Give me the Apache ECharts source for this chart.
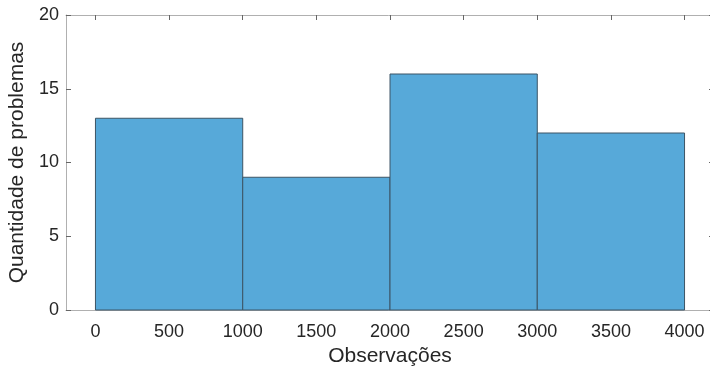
<!DOCTYPE html>
<html>
<head>
<meta charset="utf-8">
<script src="https://cdn.jsdelivr.net/npm/echarts@6/dist/echarts.min.js"></script>
<style>html,body{margin:0;padding:0;background:#fff}#c{width:710px;height:370px}</style>
</head>
<body>
<div id="c"></div>
<script>
// Histogram bins: edges and counts
const binEdges = [0, 1000, 2000, 3000, 4000];
const binCounts = [13, 9, 16, 12];
const xTicks = [0, 500, 1000, 1500, 2000, 2500, 3000, 3500, 4000];
const yTicks = [0, 5, 10, 15, 20];

const font = 'Liberation Sans, Arial, sans-serif';
const axisGray = '#b0b0b0';
const textColor = '#262626';

const bins = binCounts.map((c, i) => [binEdges[i], binEdges[i + 1], c]);

const chart = echarts.init(document.getElementById('c'), null, {renderer: 'canvas'});

function xAxisCfg(pos, show) {
  return {
    type: 'value', position: pos, min: -200, max: 4200,
    axisLine: {show: true, onZero: false, lineStyle: {color: axisGray, width: 1}},
    axisTick: {show: true, inside: true, length: 5, customValues: xTicks, lineStyle: {color: '#666'}},
    axisLabel: {show: show, customValues: xTicks, margin: 13, fontSize: 18, color: textColor, fontFamily: font,
      formatter: v => String(v)},
    splitLine: {show: false},
    name: show ? 'Observações' : '', nameLocation: 'middle', nameGap: 36,
    nameTextStyle: {fontSize: 21, color: textColor, fontFamily: font}
  };
}
function yAxisCfg(pos, show) {
  return {
    type: 'value', position: pos, min: 0, max: 20, interval: 5,
    axisLine: {show: true, onZero: false, lineStyle: {color: axisGray, width: 1}},
    axisTick: {show: true, inside: true, length: 5, customValues: yTicks, lineStyle: {color: '#666'}},
    axisLabel: {show: show, customValues: yTicks, margin: 7, fontSize: 18, color: textColor, fontFamily: font},
    splitLine: {show: false},
    name: show ? 'Quantidade de problemas' : '', nameLocation: 'middle', nameGap: 25,
    nameTextStyle: {fontSize: 21, color: textColor, fontFamily: font}
  };
}

chart.setOption({
  animation: false,
  grid: {left: 66, top: 15, width: 648, height: 295, containLabel: false, outerBoundsMode: 'none'},
  xAxis: [xAxisCfg('bottom', true), xAxisCfg('top', false)],
  yAxis: [yAxisCfg('left', true), yAxisCfg('right', false)],
  series: [{
    type: 'custom',
    xAxisIndex: 0, yAxisIndex: 0,
    data: bins,
    encode: {x: [0, 1], y: 2},
    renderItem: function (params, api) {
      const p0 = api.coord([api.value(0), 0]);
      const p1 = api.coord([api.value(1), api.value(2)]);
      return {
        type: 'rect',
        shape: {x: p0[0], y: p1[1], width: p1[0] - p0[0], height: p0[1] - p1[1]},
        style: {fill: '#57a9d9', stroke: '#3d5566', lineWidth: 1}
      };
    }
  }]
});
</script>
</body>
</html>
